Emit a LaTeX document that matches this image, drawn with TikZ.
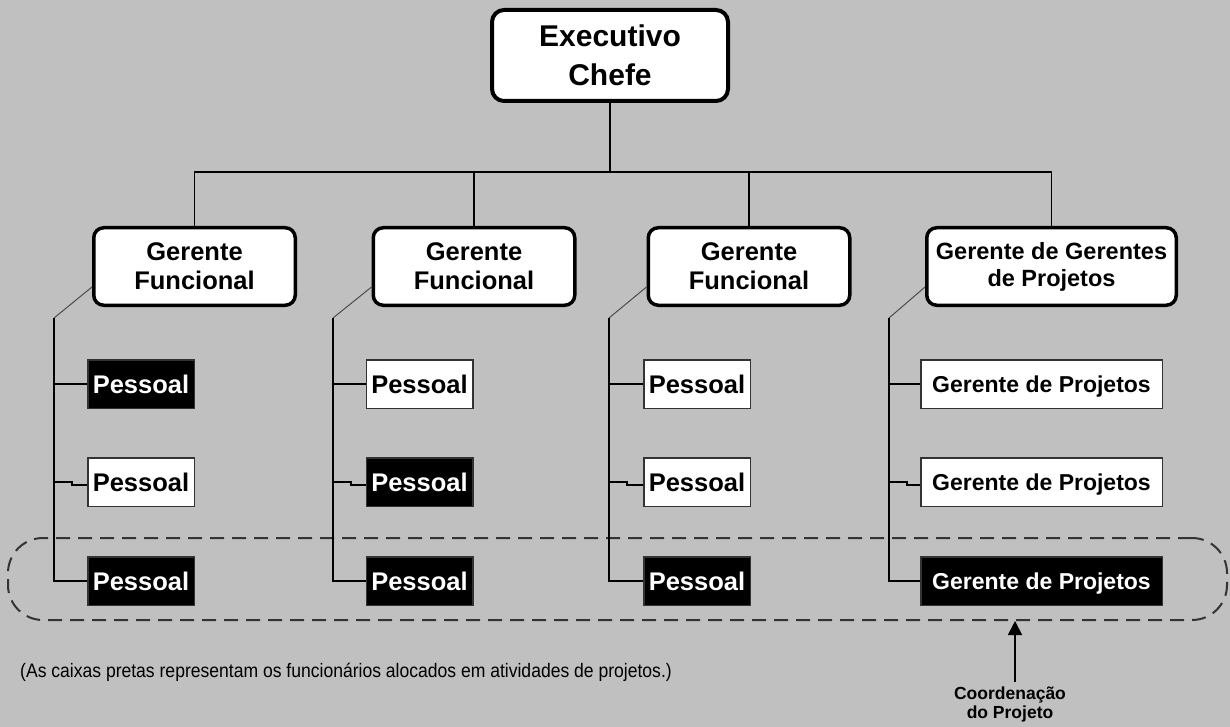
\documentclass[tikz,border=0pt]{standalone}
\usepackage{fontspec}
\setmainfont{Liberation Sans}
\usetikzlibrary{arrows.meta}
\definecolor{bg}{HTML}{C0C0C0}
\begin{document}
\begin{tikzpicture}[x=1pt,y=-1pt,
  chief/.style={draw, fill=white, line width=4pt, rounded corners=12pt, minimum width=236pt, minimum height=91pt, inner sep=0pt, align=center, font=\fontsize{30}{39}\selectfont\bfseries},
  mgr/.style={draw, fill=white, line width=3.5pt, rounded corners=10pt, minimum width=201.5pt, minimum height=77.5pt, inner sep=0pt, align=center, font=\fontsize{25.5}{29}\selectfont\bfseries},
  mgrwide/.style={mgr, minimum width=249.5pt, font=\fontsize{23.5}{27}\selectfont\bfseries},
  staff/.style={draw=black!80, line width=1.5pt, fill=white, minimum width=106.5pt, minimum height=48.5pt, inner sep=0pt, text height=18.4pt, text depth=0pt, font=\fontsize{25.5}{29}\selectfont\bfseries},
  staffA/.style={staff, fill=black, text=white},
  pm/.style={staff, minimum width=241.5pt, text height=16.6pt, font=\fontsize{23}{27}\selectfont\bfseries},
  pmA/.style={pm, fill=black, text=white},
  conn/.style={line width=1.8pt},
  diag/.style={line width=1pt, black!70},
  grp/.style={draw=black!80, line width=2pt, dash pattern=on 14pt off 8pt, rounded corners=35pt, minimum width=1219pt, minimum height=82pt, inner sep=0pt},
  ptr/.style={line width=1.8pt, -{Triangle[width=14pt,length=14pt]}},
]
\fill[bg] (0,0) rectangle (1230,727);
\useasboundingbox (0,0) rectangle (1230,727);

% group outline
\node[grp] (grupo) at (617.5,579) {};

% coordinates
\coordinate (bus) at (0,172);
\coordinate (t1) at (54,318);
\coordinate (t2) at (333,318);
\coordinate (t3) at (609,318);
\coordinate (t4) at (889,318);
\coordinate (arrS) at (1015,682);

% nodes
\node[chief] (exec) at (610,55.5) {Executivo\\Chefe};
\node[mgr] (m1) at (194.5,266.5) {Gerente\\Funcional};
\node[mgr] (m2) at (474,266.5) {Gerente\\Funcional};
\node[mgr] (m3) at (749,266.5) {Gerente\\Funcional};
\node[mgrwide] (m4) at (1051.5,266.5) {Gerente de Gerentes\\de Projetos};

\node[staffA] (p11) at (141,384) {Pessoal};
\node[staff]  (p12) at (141,482) {Pessoal};
\node[staffA] (p13) at (141,581) {Pessoal};
\node[staff]  (p21) at (419.5,384) {Pessoal};
\node[staffA] (p22) at (419.5,482) {Pessoal};
\node[staffA] (p23) at (419.5,581) {Pessoal};
\node[staff]  (p31) at (697,384) {Pessoal};
\node[staff]  (p32) at (697,482) {Pessoal};
\node[staffA] (p33) at (697,581) {Pessoal};
\node[pm]  (p41) at (1041.5,384) {Gerente de Projetos};
\node[pm]  (p42) at (1041.5,482) {Gerente de Projetos};
\node[pmA] (p43) at (1041.5,581) {Gerente de Projetos};

% top connectors
\draw[conn] (exec.south) -- (exec.south |- bus);
\draw[conn] (m1.north) -- (m1.north |- bus) -- (m4.north |- bus) -- (m4.north);
\draw[conn] (m2.north) -- (m2.north |- bus);
\draw[conn] (m3.north) -- (m3.north |- bus);

% column connectors
\foreach \c in {1,2,3,4}{
  \draw[diag] ([yshift=20pt]m\c.south west) -- (t\c);
  \draw[conn] (t\c) -- (t\c |- p\c3.west) -- (p\c3.west);
  \draw[conn] (t\c |- p\c1.west) -- (p\c1.west);
  \draw[conn] (t\c |- p\c2.west) -- ++(18,0) -- ++(0,3) -- ([yshift=-3pt]p\c2.west);
}

% pointer and labels
\node[align=center, inner sep=0pt, font=\fontsize{17.5}{19}\selectfont\bfseries] (coord) at (1010,704) {Coordenação\\do Projeto};
\draw[ptr] (arrS) -- (arrS |- grupo.south);

\node[anchor=west, inner sep=0pt, font=\fontsize{19.5}{22}\selectfont] (nota) at (20,672) {\scalebox{0.9}[1]{(As caixas pretas representam os funcionários alocados em atividades de projetos.)}};
\end{tikzpicture}
\end{document}
